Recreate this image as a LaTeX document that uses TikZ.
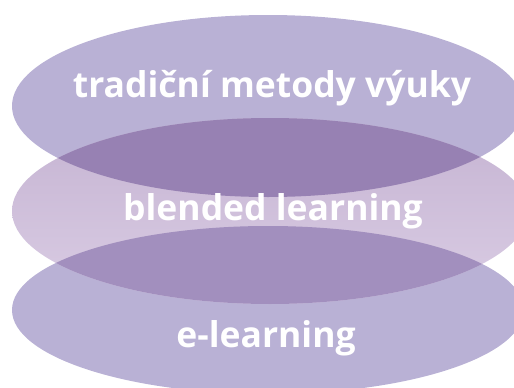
\documentclass[tikz,border=0pt]{standalone}
\usepackage{fontspec}
\setmainfont{Open Sans}
\definecolor{lilac}{RGB}{185,177,213}
\definecolor{lilacdark}{RGB}{151,129,179}
\definecolor{lilacmid}{RGB}{162,143,190}
\definecolor{rosetop}{RGB}{197,179,210}
\definecolor{rosebot}{RGB}{218,205,228}
\tikzset{
  label/.style={text=white, font=\fontsize{35.5}{42}\selectfont\bfseries, anchor=base, inner sep=0pt},
}
\begin{document}
\begin{tikzpicture}[x=1pt, y=-1pt]
  \useasboundingbox (0,0) rectangle (514,388);
  % outer layers
  \fill[lilac] (268,106) ellipse [x radius=256, y radius=91];
  \fill[lilac] (268,310) ellipse [x radius=256, y radius=84];
  % middle layer
  \shade[top color=rosetop, bottom color=rosebot] (270,211) ellipse [x radius=258, y radius=93];
  \begin{scope}
    \clip (270,211) ellipse [x radius=258, y radius=93];
    \fill[lilacdark] (268,106) ellipse [x radius=256, y radius=91];
    \fill[lilacmid] (268,310) ellipse [x radius=256, y radius=84];
  \end{scope}
  \node[label] (trad) at (272,97) {tradiční metody výuky};
  \node[label] (blend) at (273,220) {blended learning};
  \node[label] (elearn) at (266,347) {e-learning};
\end{tikzpicture}
\end{document}
